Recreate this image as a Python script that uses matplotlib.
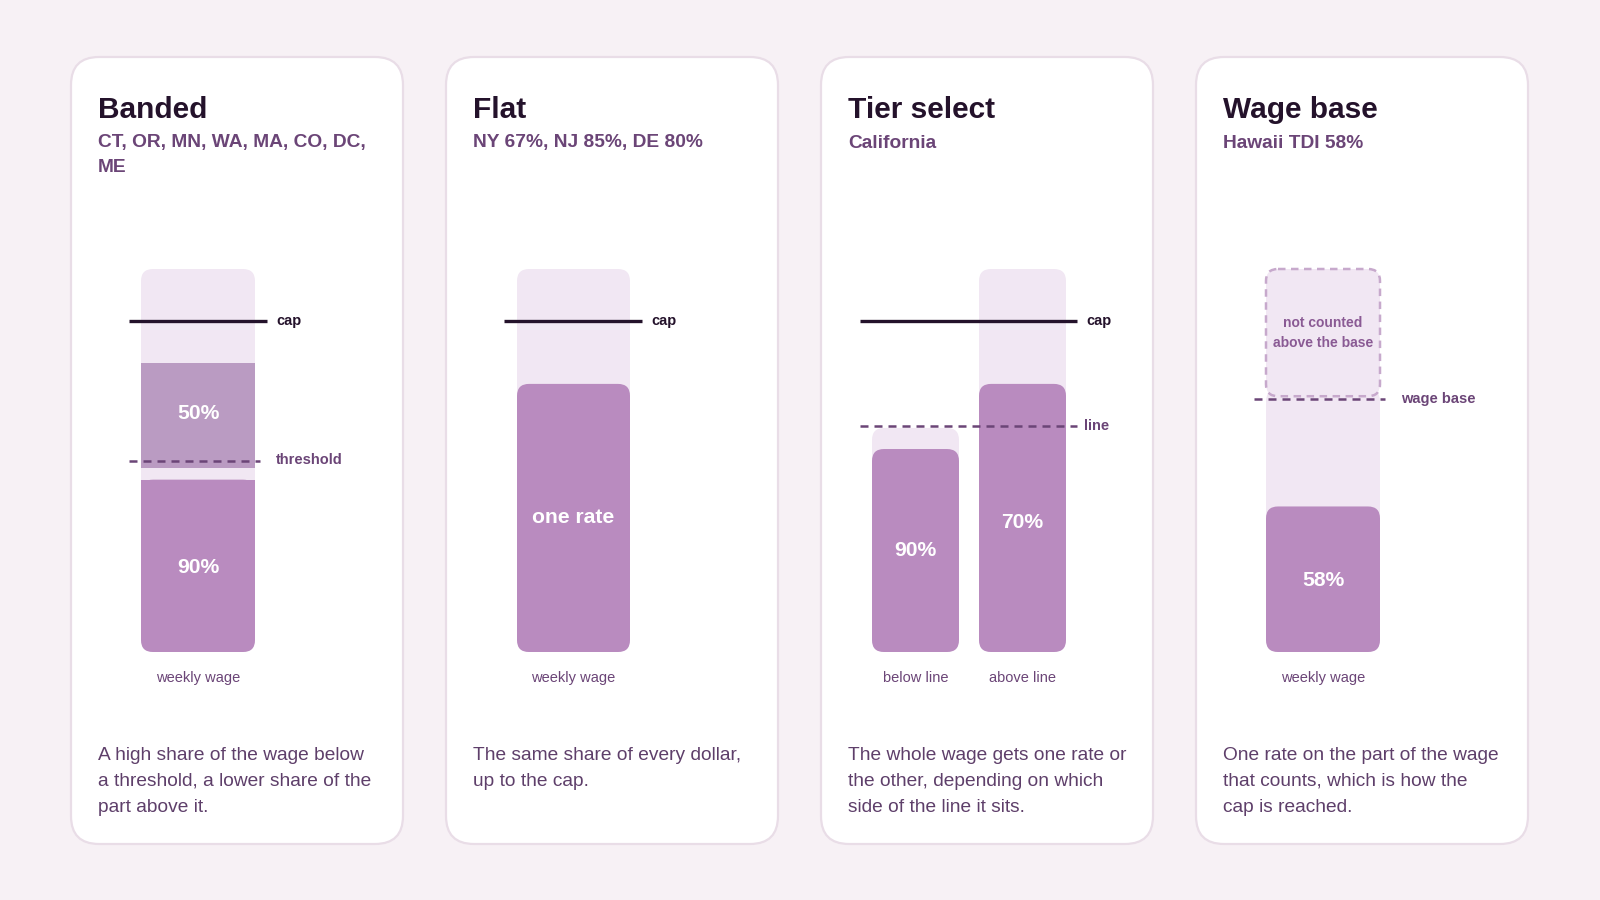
import matplotlib
matplotlib.use("Agg")
import matplotlib.pyplot as plt
from matplotlib.patches import FancyBboxPatch, Rectangle

plt.rcParams['font.family'] = ['Liberation Sans', 'DejaVu Sans']

# ---- content ----
titles = ["Banded", "Flat", "Tier select", "Wage base"]
subtitles = [["CT, OR, MN, WA, MA, CO, DC,", "ME"],
             ["NY 67%, NJ 85%, DE 80%"],
             ["California"],
             ["Hawaii TDI 58%"]]
descriptions = [["A high share of the wage below", "a threshold, a lower share of the", "part above it."],
                ["The same share of every dollar,", "up to the cap."],
                ["The whole wage gets one rate or", "the other, depending on which", "side of the line it sits."],
                ["One rate on the part of the wage", "that counts, which is how the", "cap is reached."]]
axis_labels = [["weekly wage"], ["weekly wage"], ["below line", "above line"], ["weekly wage"]]

# bar levels, in % of the full bar height
banded_cap = 86.4
banded_threshold = 50
banded_upper = (48, 75.5)    # 50% segment
banded_lower = 45            # 90% segment top
banded_rates = ["50%", "90%"]

flat_cap = 86.4
flat_fill = 70
flat_rate = "one rate"

tier_cap = 86.4
tier_line = 59
tier_bg = [58.5, 100]
tier_fill = [53, 70]
tier_rates = ["90%", "70%"]

base_line = 66
base_fill = 38
base_rate = "58%"
base_note = ["not counted", "above the base"]

# ---- style ----
BG = "#f7f1f5"
CARD_EDGE = "#e9dde7"
LIGHT = "#f1e7f3"
FILL = "#b98bbf"
FILL2 = "#ba9bc2"
DARK = "#24122b"
PURPLE = "#6b4577"
TEXT = "#5e3f6a"

fig = plt.figure(figsize=(16, 9), dpi=100)
fig.patch.set_facecolor(BG)
ax = fig.add_axes([0, 0, 1, 1])
ax.set_xlim(0, 1600)
ax.set_ylim(900, 0)
ax.axis("off")

card_x = [71, 446, 821, 1196]
card_w = 332
card_top, card_bot = 57, 844
bar_top, bar_bot = 269, 652


def ly(v):
    return bar_bot - (bar_bot - bar_top) * v / 100.0


def rbox(x0, x1, y0, y1, color, r=12, **kw):
    p = FancyBboxPatch((x0, y0), x1 - x0, y1 - y0,
                       boxstyle="round,pad=0,rounding_size=%d" % r,
                       facecolor=color, edgecolor="none", **kw)
    ax.add_patch(p)
    return p


def cap_line(x0, x1, v, label):
    ax.plot([x0, x1], [ly(v), ly(v)], color=DARK, lw=2.4, solid_capstyle="butt")
    ax.text(x1 + 9, ly(v), label, color=DARK, fontsize=10.5, fontweight="bold",
            va="center", ha="left")


def dash_line(x0, x1, v, label):
    ax.plot([x0, x1], [ly(v), ly(v)], color=PURPLE, lw=1.8,
            linestyle=(0, (3.2, 2.4)))
    ax.text(x1 + 16, ly(v), label, color=PURPLE, fontsize=10.5, fontweight="bold",
            va="center", ha="left")


def rate(x, y, s):
    ax.text(x, y, s, color="white", fontsize=15.2, fontweight="bold",
            ha="center", va="center")


for i, cx in enumerate(card_x):
    ax.add_patch(FancyBboxPatch((cx, card_top), card_w, card_bot - card_top,
                                boxstyle="round,pad=0,rounding_size=28",
                                facecolor="white", edgecolor=CARD_EDGE, lw=1.6))
    ax.text(cx + 27, 110, titles[i], fontsize=21.5, fontweight="bold", color=DARK,
            va="center", ha="left")
    for k, s in enumerate(subtitles[i]):
        ax.text(cx + 27, 143 + 24 * k, s, fontsize=13.8, fontweight="bold",
                color=PURPLE, va="center", ha="left")
    for k, s in enumerate(descriptions[i]):
        ax.text(cx + 27, 756 + 25.5 * k, s, fontsize=13.8, color=TEXT,
                va="center", ha="left")

# Banded
bx0, bx1 = 141, 255
rbox(bx0, bx1, ly(100), ly(0), LIGHT)
ax.add_patch(Rectangle((bx0, ly(banded_upper[1])), bx1 - bx0,
                       ly(banded_upper[0]) - ly(banded_upper[1]),
                       facecolor=FILL2, edgecolor="none"))
rbox(bx0, bx1, ly(banded_lower), ly(0), FILL)
ax.add_patch(Rectangle((bx0, ly(banded_lower)), bx1 - bx0, 14,
                       facecolor=FILL, edgecolor="none"))
cap_line(129, 267, banded_cap, "cap")
dash_line(129, 260, banded_threshold, "threshold")
rate((bx0 + bx1) / 2, (ly(banded_upper[0]) + ly(banded_upper[1])) / 2 - 2, banded_rates[0])
rate((bx0 + bx1) / 2, (ly(banded_lower) + ly(0)) / 2 + 2, banded_rates[1])
ax.text((bx0 + bx1) / 2, 678, axis_labels[0][0], color=PURPLE, fontsize=10.5,
        ha="center", va="center")

# Flat
fx0, fx1 = 517, 630
rbox(fx0, fx1, ly(100), ly(0), LIGHT)
rbox(fx0, fx1, ly(flat_fill), ly(0), FILL)
cap_line(504, 642, flat_cap, "cap")
rate((fx0 + fx1) / 2, (ly(flat_fill) + ly(0)) / 2, flat_rate)
ax.text((fx0 + fx1) / 2, 678, axis_labels[1][0], color=PURPLE, fontsize=10.5,
        ha="center", va="center")

# Tier select
tx = [(872, 959), (979, 1066)]
for j, (x0, x1) in enumerate(tx):
    rbox(x0, x1, ly(tier_bg[j]), ly(0), LIGHT)
    rbox(x0, x1, ly(tier_fill[j]), ly(0), FILL)
    rate((x0 + x1) / 2, (ly(tier_fill[j]) + ly(0)) / 2 + 5 * j, tier_rates[j])
    ax.text((x0 + x1) / 2, 678, axis_labels[2][j], color=PURPLE, fontsize=10.5,
            ha="center", va="center")
cap_line(860, 1077, tier_cap, "cap")
ax.plot([860, 1077], [ly(tier_line)] * 2, color=PURPLE, lw=1.8,
        linestyle=(0, (3.2, 2.4)))
ax.text(1084, ly(tier_line), "line", color=PURPLE, fontsize=10.5,
        fontweight="bold", va="center", ha="left")

# Wage base
wx0, wx1 = 1266, 1380
rbox(wx0, wx1, ly(base_line) - 10, ly(0), LIGHT)
rbox(wx0, wx1, ly(base_fill), ly(0), FILL)
ax.add_patch(FancyBboxPatch((wx0, ly(100)), wx1 - wx0, ly(base_line) - ly(100) - 3,
                            boxstyle="round,pad=0,rounding_size=12",
                            facecolor=LIGHT, edgecolor="#c7a9cc", lw=1.8,
                            linestyle=(0, (3.0, 2.2))))
for k, s in enumerate(base_note):
    ax.text((wx0 + wx1) / 2, 323 + 20 * k, s, color="#8a5a94", fontsize=10,
            fontweight="bold", ha="center", va="center")
dash_line(1254, 1385, base_line, "wage base")
rate((wx0 + wx1) / 2, (ly(base_fill) + ly(0)) / 2 + 1, base_rate)
ax.text((wx0 + wx1) / 2, 678, axis_labels[3][0], color=PURPLE, fontsize=10.5,
        ha="center", va="center")

fig.savefig("out.png", dpi=100, facecolor=BG)
